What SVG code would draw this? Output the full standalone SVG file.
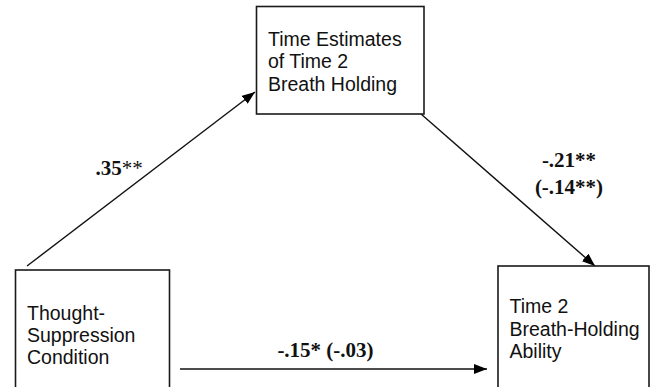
<svg xmlns="http://www.w3.org/2000/svg" width="651" height="387" viewBox="0 0 651 387">
<style>
.box{fill:#fff;stroke:#1a1a1a;stroke-width:1.6}
.lbl{font-family:"Liberation Sans",Arial,sans-serif;font-size:19.5px;fill:#111}
.coef{font-family:"Liberation Serif","Times New Roman",serif;font-size:21px;font-weight:bold;fill:#111}
.con{stroke:#111;stroke-width:1.4;fill:none;marker-end:url(#ah)}
</style>
<defs>
<marker id="ah" markerWidth="14" markerHeight="10" refX="13" refY="5" orient="auto" markerUnits="userSpaceOnUse">
<path d="M0,0 L13,5 L0,10 Z" fill="#000"/>
</marker>
</defs>
<rect width="651" height="387" fill="#fff"/>
<g id="connectors">
<line class="con" x1="27" y1="266" x2="255" y2="92"/>
<line class="con" x1="421" y1="114" x2="595" y2="266"/>
<line class="con" x1="180" y1="369" x2="487" y2="369"/>
</g>
<g id="mediator">
<rect class="box" x="256.5" y="6.5" width="167.5" height="107.5"/>
<text class="lbl" x="268" y="45.7">Time Estimates</text>
<text class="lbl" x="268" y="68.3">of Time 2</text>
<text class="lbl" x="268" y="90.7">Breath Holding</text>
</g>
<g id="predictor">
<rect class="box" x="15.5" y="270" width="154" height="130"/>
<text class="lbl" x="27" y="320">Thought-</text>
<text class="lbl" x="27" y="342">Suppression</text>
<text class="lbl" x="27" y="364">Condition</text>
</g>
<g id="outcome">
<rect class="box" x="498" y="266" width="151" height="134"/>
<text class="lbl" x="509.5" y="313.3">Time 2</text>
<text class="lbl" x="509.5" y="336">Breath-Holding</text>
<text class="lbl" x="509.5" y="357.5">Ability</text>
</g>
<g id="labels">
<text class="coef" x="95.5" y="175">.35<tspan font-weight="normal">**</tspan></text>
<text class="coef" x="569" y="167" text-anchor="middle">-.21**</text>
<text class="coef" x="569" y="193.5" text-anchor="middle">(-.14**)</text>
<text class="coef" x="325.5" y="357" text-anchor="middle">-.15* (-.03)</text>
</g>
</svg>
